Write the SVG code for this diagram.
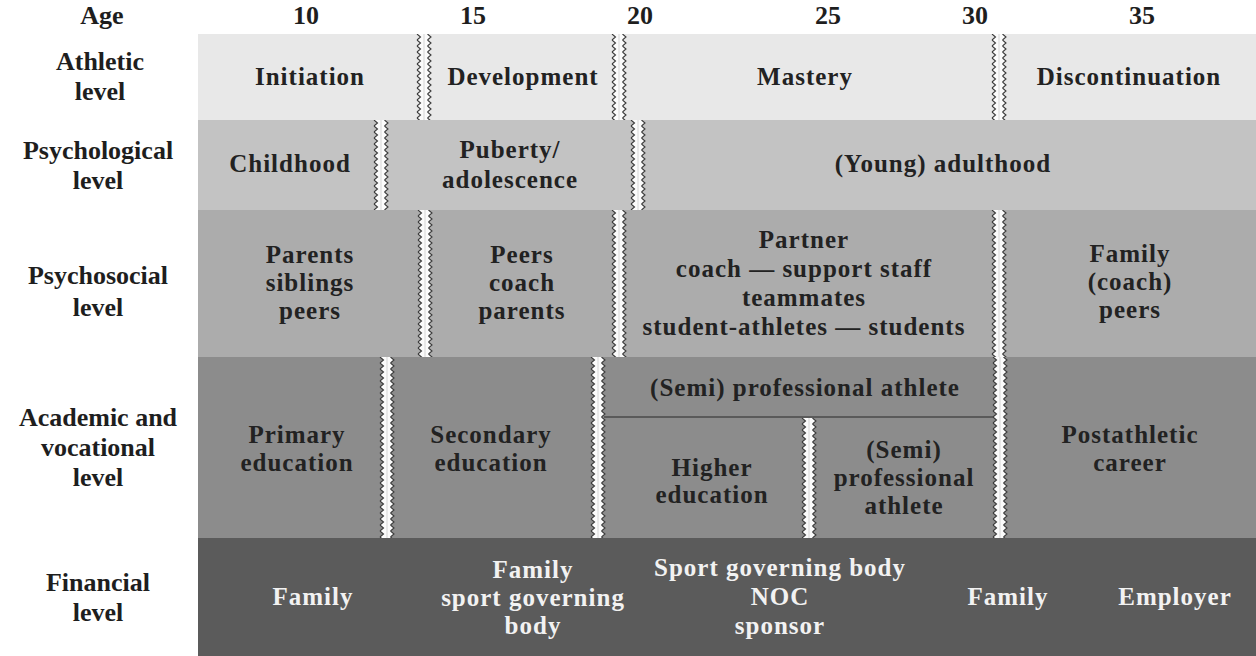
<svg xmlns="http://www.w3.org/2000/svg" width="1256" height="656" viewBox="0 0 1256 656">
<style>
.lbl{font-family:"Liberation Serif","Times New Roman",serif;font-weight:bold;font-size:26px;fill:#1e1e1e;text-anchor:middle}
.t{font-family:"Liberation Serif","Times New Roman",serif;font-weight:bold;font-size:25px;letter-spacing:1px;fill:#222222;text-anchor:middle}
.w{fill:#f2f2f2}
</style>
<defs>
<pattern id="zz" patternUnits="userSpaceOnUse" x="0" y="0" width="16" height="6">
<polygon points="1,0 4.5,3 1,6 11.5,6 15,3 11.5,0" fill="#fbfbfb"/>
<polyline points="1,0 4.5,3 1,6" fill="none" stroke="#3a3a3a" stroke-width="1.1"/>
<polyline points="11.5,0 15,3 11.5,6" fill="none" stroke="#3a3a3a" stroke-width="1.1"/>
<line x1="8" y1="0" x2="8" y2="6" stroke="#d6d6d6" stroke-width="1"/>
</pattern>
</defs>
<rect width="1256" height="656" fill="#ffffff"/>
<g id="rows">
<rect x="198" y="34" width="1058" height="86" fill="#e8e8e8"/>
<rect x="198" y="120" width="1058" height="90" fill="#c3c3c3"/>
<rect x="198" y="210" width="1058" height="147" fill="#acacac"/>
<rect x="198" y="357" width="1058" height="181" fill="#8c8c8c"/>
<rect x="198" y="538" width="1058" height="118" fill="#5b5b5b"/>
</g>
<g id="connectors">
<line x1="604" y1="417" x2="995" y2="417" stroke="#4a4a4a" stroke-width="1.5"/>
<g transform="translate(416,34)"><rect width="16" height="86" fill="url(#zz)"/></g>
<g transform="translate(611,34)"><rect width="16" height="86" fill="url(#zz)"/></g>
<g transform="translate(991,34)"><rect width="16" height="86" fill="url(#zz)"/></g>
<g transform="translate(373,120)"><rect width="16" height="90" fill="url(#zz)"/></g>
<g transform="translate(630,120)"><rect width="16" height="90" fill="url(#zz)"/></g>
<g transform="translate(417,210)"><rect width="16" height="147" fill="url(#zz)"/></g>
<g transform="translate(611,210)"><rect width="16" height="147" fill="url(#zz)"/></g>
<g transform="translate(991,210)"><rect width="16" height="147" fill="url(#zz)"/></g>
<g transform="translate(379,357)"><rect width="16" height="181" fill="url(#zz)"/></g>
<g transform="translate(590,357)"><rect width="16" height="181" fill="url(#zz)"/></g>
<g transform="translate(992,357)"><rect width="16" height="181" fill="url(#zz)"/></g>
<g transform="translate(801,418)"><rect width="16" height="120" fill="url(#zz)"/></g>
</g>
<g id="header">
<text class="lbl" x="102" y="24">Age</text>
<text class="lbl" x="306" y="24">10</text>
<text class="lbl" x="473" y="24">15</text>
<text class="lbl" x="640" y="24">20</text>
<text class="lbl" x="828" y="24">25</text>
<text class="lbl" x="975" y="24">30</text>
<text class="lbl" x="1142" y="24">35</text>
</g>
<g id="row-labels">
<text class="lbl" x="100" y="70">Athletic</text>
<text class="lbl" x="100" y="100">level</text>
<text class="lbl" x="98" y="159">Psychological</text>
<text class="lbl" x="98" y="189">level</text>
<text class="lbl" x="98" y="284">Psychosocial</text>
<text class="lbl" x="98" y="316">level</text>
<text class="lbl" x="98" y="426">Academic and</text>
<text class="lbl" x="98" y="456">vocational</text>
<text class="lbl" x="98" y="486">level</text>
<text class="lbl" x="98" y="591">Financial</text>
<text class="lbl" x="98" y="621">level</text>
</g>
<g id="initiation"><text class="t" x="310" y="85">Initiation</text></g>
<g id="development"><text class="t" x="523" y="85">Development</text></g>
<g id="mastery"><text class="t" x="805" y="85">Mastery</text></g>
<g id="discontinuation"><text class="t" x="1129" y="85">Discontinuation</text></g>
<g id="childhood"><text class="t" x="290" y="172">Childhood</text></g>
<g id="puberty"><text class="t" x="510" y="158">Puberty/</text><text class="t" x="510" y="188">adolescence</text></g>
<g id="adulthood"><text class="t" x="943" y="172">(Young) adulthood</text></g>
<g id="psychosocial-1"><text class="t" x="310" y="263">Parents</text><text class="t" x="310" y="291">siblings</text><text class="t" x="310" y="319">peers</text></g>
<g id="psychosocial-2"><text class="t" x="522" y="263">Peers</text><text class="t" x="522" y="291">coach</text><text class="t" x="522" y="319">parents</text></g>
<g id="psychosocial-3"><text class="t" x="804" y="248">Partner</text><text class="t" x="804" y="277">coach — support staff</text><text class="t" x="804" y="306">teammates</text><text class="t" x="804" y="335">student-athletes — students</text></g>
<g id="psychosocial-4"><text class="t" x="1130" y="262">Family</text><text class="t" x="1130" y="290">(coach)</text><text class="t" x="1130" y="318">peers</text></g>
<g id="primary"><text class="t" x="297" y="443">Primary</text><text class="t" x="297" y="471">education</text></g>
<g id="secondary"><text class="t" x="491" y="443">Secondary</text><text class="t" x="491" y="471">education</text></g>
<g id="semipro-top"><text class="t" x="805" y="396">(Semi) professional athlete</text></g>
<g id="higher"><text class="t" x="712" y="476">Higher</text><text class="t" x="712" y="503">education</text></g>
<g id="semipro-bottom"><text class="t" x="904" y="458">(Semi)</text><text class="t" x="904" y="486">professional</text><text class="t" x="904" y="514">athlete</text></g>
<g id="postathletic"><text class="t" x="1130" y="443">Postathletic</text><text class="t" x="1130" y="471">career</text></g>
<g id="fin-1"><text class="t w" x="313" y="605">Family</text></g>
<g id="fin-2"><text class="t w" x="533" y="578">Family</text><text class="t w" x="533" y="606">sport governing</text><text class="t w" x="533" y="634">body</text></g>
<g id="fin-3"><text class="t w" x="780" y="576">Sport governing body</text><text class="t w" x="780" y="605">NOC</text><text class="t w" x="780" y="634">sponsor</text></g>
<g id="fin-4"><text class="t w" x="1008" y="605">Family</text></g>
<g id="fin-5"><text class="t w" x="1175" y="605">Employer</text></g>
</svg>
